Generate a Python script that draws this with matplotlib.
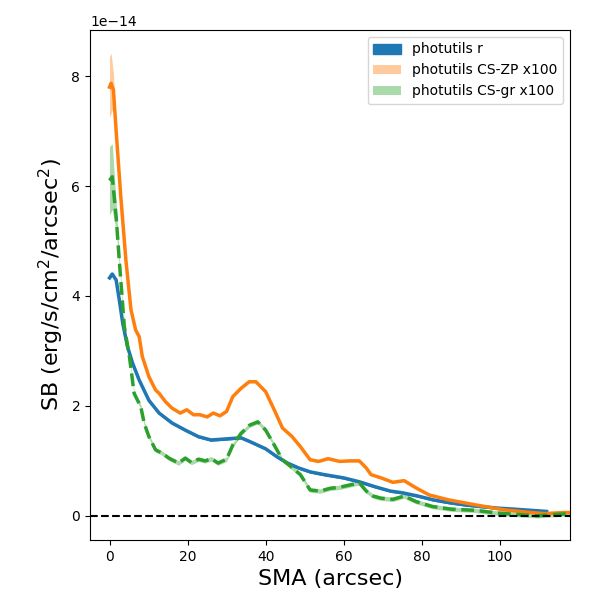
import numpy as np
import matplotlib
matplotlib.use("Agg")
from matplotlib import pyplot as plt

# profil r (unites de 1e-14)
sma_r = [0.0, 0.7, 1.7, 2.5, 3.4, 4.6, 5.9, 7.6, 10.1, 12.7, 16.0, 19.4, 22.8, 26.0,
         30.0, 33.7, 36.0, 40.0, 43.0, 45.6, 48.5, 51.4, 55.0, 60.0, 64.0, 68.0,
         72.0, 75.0, 79.0, 83.0, 87.0, 91.0, 95.0, 99.5, 104.0, 108.0, 112.0]
sb_r = [4.33, 4.4, 4.29, 3.93, 3.5, 3.08, 2.78, 2.47, 2.1, 1.87, 1.69, 1.56, 1.44, 1.38,
        1.40, 1.42, 1.35, 1.22, 1.07, 0.96, 0.87, 0.80, 0.75, 0.69, 0.62, 0.53,
        0.45, 0.42, 0.36, 0.29, 0.24, 0.20, 0.17, 0.14, 0.12, 0.10, 0.08]

# profil CS-ZP x100
sma_zp = [0.0, 0.4, 1.0, 1.7, 2.9, 4.2, 5.5, 6.7, 7.6, 8.4, 10.1, 11.8, 12.7, 14.3, 16.0,
          18.1, 19.8, 21.5, 23.2, 25.0, 26.6, 28.3, 30.0, 31.6, 33.7, 35.8, 37.5, 40.0,
          42.2, 44.3, 46.8, 48.9, 51.4, 53.6, 56.0, 59.0, 61.5, 64.0, 65.8, 67.0, 69.6,
          72.6, 75.5, 78.5, 81.9, 86.9, 93.7, 101.0, 108.0, 111.4, 116.5, 120.0]
sb_zp = [7.8, 7.87, 7.75, 7.0, 5.8, 4.65, 3.75, 3.38, 3.26, 2.9, 2.53, 2.29, 2.23, 2.08, 1.96,
         1.87, 1.93, 1.84, 1.84, 1.80, 1.87, 1.82, 1.90, 2.17, 2.32, 2.44, 2.44, 2.26,
         1.93, 1.60, 1.44, 1.26, 1.02, 0.99, 1.04, 0.99, 1.00, 1.00, 0.87, 0.75, 0.69,
         0.61, 0.64, 0.51, 0.38, 0.29, 0.20, 0.11, 0.06, 0.04, 0.06, 0.06]
err_zp = [0.55, 0.55, 0.3, 0.12, 0.05, 0.04, 0.03, 0.03, 0.02, 0.02, 0.02, 0.02, 0.02,
          0.02, 0.02, 0.02, 0.02, 0.02, 0.02, 0.02, 0.02, 0.02, 0.02, 0.02, 0.02, 0.02,
          0.02, 0.02, 0.02, 0.02, 0.02, 0.02, 0.02, 0.02, 0.02, 0.02, 0.02, 0.02, 0.02,
          0.02, 0.02, 0.02, 0.02, 0.02, 0.02, 0.02, 0.02, 0.02, 0.02, 0.02, 0.02, 0.02]

# profil CS-gr x100
sma_gr = [0.0, 0.7, 1.7, 2.5, 3.8, 5.1, 6.3, 7.2, 8.0, 8.9, 10.1, 11.8, 13.5, 15.2, 17.7,
          19.4, 21.0, 22.8, 24.5, 26.1, 27.8, 30.0, 31.6, 33.7, 35.9, 38.0, 40.0, 42.2,
          44.3, 46.4, 48.9, 51.4, 54.0, 56.5, 59.0, 61.5, 64.0, 65.8, 67.5, 69.6, 72.6,
          75.5, 78.5, 82.7, 87.7, 93.7, 99.5, 105.5, 109.7, 113.0, 118.0]
sb_gr = [6.1, 6.17, 5.44, 4.65, 3.44, 2.9, 2.23, 2.1, 1.99, 1.68, 1.44, 1.2, 1.14, 1.05, 0.96,
         1.05, 0.97, 1.03, 1.00, 1.04, 0.96, 1.03, 1.29, 1.50, 1.65, 1.71, 1.56, 1.29,
         1.02, 0.90, 0.75, 0.47, 0.45, 0.50, 0.52, 0.56, 0.60, 0.45, 0.36, 0.32, 0.30,
         0.36, 0.26, 0.17, 0.12, 0.10, 0.05, 0.02, 0.0, 0.02, 0.04]
err_gr = [0.62, 0.6, 0.25, 0.1, 0.05, 0.04, 0.04, 0.04, 0.04, 0.04, 0.04, 0.04, 0.04, 0.04,
          0.04, 0.04, 0.04, 0.04, 0.04, 0.04, 0.04, 0.04, 0.04, 0.04, 0.04, 0.04, 0.04,
          0.04, 0.04, 0.04, 0.04, 0.04, 0.04, 0.04, 0.04, 0.04, 0.04, 0.04, 0.04, 0.04,
          0.04, 0.04, 0.04, 0.04, 0.04, 0.04, 0.04, 0.04, 0.04, 0.04, 0.04]

scale = 1e-14
sma_r = np.array(sma_r); sb_r = np.array(sb_r) * scale
sma_zp = np.array(sma_zp); sb_zp = np.array(sb_zp) * scale; err_zp = np.array(err_zp) * scale
sma_gr = np.array(sma_gr); sb_gr = np.array(sb_gr) * scale; err_gr = np.array(err_gr) * scale

fig = plt.figure(figsize=(6, 6), dpi=100)
ax = fig.add_axes([0.15, 0.1, 0.8, 0.85])

ax.fill_between(sma_r, sb_r - 0.01 * scale, sb_r + 0.01 * scale, color="C0", label="photutils r")
ax.plot(sma_r, sb_r, color="C0", lw=2.5)

ax.fill_between(sma_zp, sb_zp - err_zp, sb_zp + err_zp, color="C1", alpha=0.4, lw=0,
                label="photutils CS-ZP x100")
ax.plot(sma_zp, sb_zp, color="C1", lw=2.5)

ax.fill_between(sma_gr, sb_gr - err_gr, sb_gr + err_gr, color="C2", alpha=0.4, lw=0,
                label="photutils CS-gr x100")
ax.plot(sma_gr, sb_gr, color="C2", lw=2.5, ls="--")

ax.axhline(0, color="k", ls="--", lw=1.5)

ax.set_xlim(-5, 118)
ax.set_ylim(-0.44e-14, 8.84e-14)
ax.set_xlabel("SMA (arcsec)", fontsize=16)
ax.set_ylabel("SB (erg/s/cm$^2$/arcsec$^2$)", fontsize=16)
ax.legend(loc="upper right")

plt.savefig("out.png")
